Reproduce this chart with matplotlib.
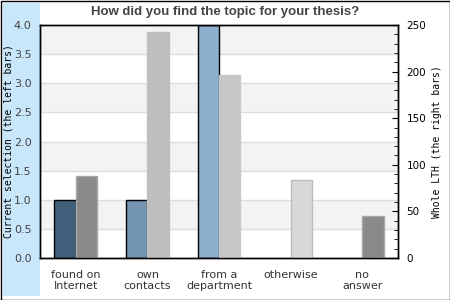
import matplotlib
matplotlib.use('Agg')
import matplotlib.pyplot as plt
from matplotlib.patches import Rectangle
from matplotlib.ticker import MultipleLocator
import numpy as np

# Datos
categorias = ['found on\nInternet', 'own\ncontacts', 'from a\ndepartment', 'otherwise', 'no\nanswer']
seleccion = [1, 1, 4, 0, 0]            # eje izquierdo
lth = [88, 242, 196, 84, 45]           # eje derecho
colores_sel = ['#3f5f7a', '#7395b0', '#8eb0cc', '#8eb0cc', '#8eb0cc']
colores_lth = ['#8a8a8a', '#bebebe', '#c8c8c8', '#d8d8d8', '#8a8a8a']
bordes_lth = ['#a8a8a8', '#bebebe', '#c8c8c8', '#bcbcbc', '#a8a8a8']

fig = plt.figure(figsize=(4.5, 3), dpi=100)

# fondo azul de la etiqueta izquierda y borde de la figura
fig.patches.append(Rectangle((3/450, 4/300), 37/450, 293/300, transform=fig.transFigure,
                             facecolor='#c9e7fb', edgecolor='none', zorder=-2))
fig.patches.append(Rectangle((0.5/450, 0.5/300), 449/450, 299/300, transform=fig.transFigure,
                             facecolor='none', edgecolor='black', lw=1, zorder=-1))

ax = fig.add_axes([40/450, 42/300, 358/450, 233/300])
ax2 = ax.twinx()

x = np.arange(len(categorias))
w = 0.3

# bandas alternas
for y0 in np.arange(0, 4, 0.5):
    if round(y0 / 0.5) % 2 == 1:
        ax.axhspan(y0, y0 + 0.5, color='#f3f3f3', zorder=0, lw=0)
    ax.axhline(y0, color='#dddddd', lw=1, zorder=0.5)

# barras izquierdas (solo las que tienen valor)
for xi, v, c in zip(x, seleccion, colores_sel):
    if v > 0:
        ax.bar(xi - w/2, v, w, color=c, edgecolor='black', lw=1, zorder=2)
ax2.bar(x + w/2, lth, w, color=colores_lth, edgecolor=bordes_lth, lw=1, zorder=2)

ax.set_xlim(-0.5, 4.5)
ax.set_ylim(0, 4)
ax2.set_ylim(0, 250)
ax2.yaxis.set_major_locator(MultipleLocator(50))
ax2.yaxis.set_minor_locator(MultipleLocator(10))

ax.set_xticks(x)
ax.set_xticklabels(categorias, fontsize=8, color='#333333', linespacing=1.1)
ax.tick_params(axis='x', length=0, pad=8.5)
ax.tick_params(axis='y', length=0, pad=6, labelsize=8, labelcolor='#444444')
ax.set_yticks(np.arange(0, 4.01, 0.5))
ax.set_yticklabels(['%.1f' % v for v in np.arange(0, 4.01, 0.5)])
ax2.tick_params(axis='y', which='both', direction='in', labelsize=7.5, pad=6)
ax2.tick_params(axis='y', which='major', length=4)
ax2.tick_params(axis='y', which='minor', length=3)

for s in ax.spines.values():
    s.set_linewidth(1)
for s in ax2.spines.values():
    s.set_linewidth(1)

ax.set_ylabel('Current selection (the left bars)', family='DejaVu Sans Mono', fontsize=7)
ax.yaxis.set_label_coords(-0.075, 0.5)
ax2.set_ylabel('Whole LTH (the right bars)', family='DejaVu Sans Mono', fontsize=7, labelpad=4)

fig.text(0.5, 0.96, 'How did you find the topic for your thesis?', ha='center', va='center',
         fontsize=9.5, fontweight='bold', color='#444444', family='Liberation Sans')

fig.savefig('out.png', dpi=100)
